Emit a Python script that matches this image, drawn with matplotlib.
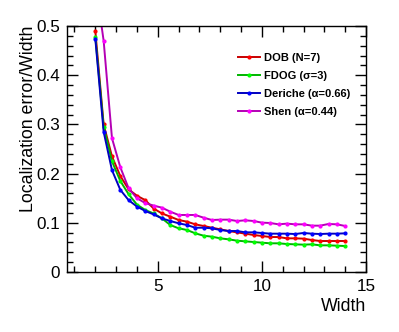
import matplotlib
matplotlib.use("Agg")
import matplotlib.pyplot as plt
from matplotlib.ticker import MultipleLocator, FixedLocator

plt.rcParams['font.family'] = ['Liberation Sans', 'DejaVu Sans']

# ---- data ----
width = [2.0, 2.4, 2.8, 3.2, 3.6, 4.0, 4.4, 4.8, 5.2, 5.6, 6.0, 6.4, 6.8, 7.2, 7.6,
         8.0, 8.4, 8.8, 9.2, 9.6, 10.0, 10.4, 10.8, 11.2, 11.6, 12.0, 12.4, 12.8,
         13.2, 13.6, 14.0]

dob = [0.490, 0.300, 0.235, 0.195, 0.168, 0.155, 0.146, 0.129, 0.119, 0.1125,
       0.1057, 0.1023, 0.0969, 0.0935, 0.0901, 0.0867, 0.0833, 0.0806, 0.0779,
       0.0752, 0.0732, 0.0711, 0.0711, 0.0684, 0.0684, 0.0678, 0.065, 0.063,
       0.063, 0.063, 0.063]

fdog = [0.478, 0.295, 0.225, 0.185, 0.158, 0.137, 0.126, 0.119, 0.109, 0.0955,
        0.0888, 0.0854, 0.0786, 0.0738, 0.0718, 0.0684, 0.0664, 0.0637, 0.0623,
        0.061, 0.0596, 0.0583, 0.0583, 0.0569, 0.0562, 0.0556, 0.0562, 0.0542,
        0.0542, 0.0535, 0.0528]

deriche = [0.474, 0.285, 0.207, 0.167, 0.146, 0.133, 0.124, 0.117, 0.109, 0.1037,
           0.099, 0.0955, 0.090, 0.090, 0.0888, 0.0854, 0.0833, 0.0833, 0.0806,
           0.0806, 0.0793, 0.0779, 0.0779, 0.0779, 0.0772, 0.0793, 0.0779, 0.0772,
           0.0779, 0.0779, 0.0786]

shen = [0.59, 0.47, 0.272, 0.213, 0.17, 0.15, 0.14, 0.135, 0.1307, 0.1226,
        0.1159, 0.1159, 0.1159, 0.1104, 0.1057, 0.1064, 0.1064, 0.1037, 0.105,
        0.1037, 0.1003, 0.0996, 0.0969, 0.0983, 0.0969, 0.0969, 0.0942, 0.0942,
        0.0976, 0.0969, 0.0935]

labels = ['DOB (N=7)', 'FDOG (\u03c3=3)', 'Deriche (\u03b1=0.66)', 'Shen (\u03b1=0.44)']
series = [dob, fdog, deriche, shen]
line_colors = ['#c80000', '#00b400', '#0000c0', '#b400b4']
marker_colors = ['#ff0000', '#00ff00', '#0000ff', '#ff00ff']

xticks_major = [5, 10, 15]
xtick_labels = ['5', '10', '15']
yticks_major = [0.0, 0.1, 0.2, 0.3, 0.4, 0.5]
ytick_labels = ['0', '0.1', '0.2', '0.3', '0.4', '0.5']

# ---- figure ----
fig = plt.figure(figsize=(3.99, 3.32), dpi=100)
ax = fig.add_axes([67/399, 1-272/332, (366-67)/399, (272-26)/332])

for ys, lab, lc, mc in zip(series, labels, line_colors, marker_colors):
    ax.plot(width, ys, color=lc, lw=1.4, marker='o', ms=2.0,
            mfc=mc, mec=mc, label=lab)

ax.set_xlim(0.64, 15.0)
ax.set_ylim(0, 0.5)

ax.xaxis.set_major_locator(FixedLocator(xticks_major))
ax.set_xticklabels(xtick_labels)
ax.xaxis.set_minor_locator(MultipleLocator(1))
ax.yaxis.set_major_locator(FixedLocator(yticks_major))
ax.set_yticklabels(ytick_labels)
ax.yaxis.set_minor_locator(MultipleLocator(0.02))

ax.tick_params(which='both', direction='in', top=True, right=True,
               width=1.0, labelsize=12.3)
ax.tick_params(which='major', length=8, pad=5)
ax.tick_params(which='minor', length=4.5)
ax.tick_params(axis='x', which='major', pad=5)
for s in ax.spines.values():
    s.set_linewidth(1.0)

ax.set_ylabel('Localization error/Width', fontsize=12.8, loc='top')
ax.yaxis.set_label_coords(-0.10, 1.0)
ax.set_xlabel('Width', fontsize=12.8, loc='right')
ax.xaxis.set_label_coords(1.0, -0.105)

leg = ax.legend(loc='upper left', bbox_to_anchor=(0.571, 0.89), frameon=False,
                prop={'weight': 'bold', 'size': 8}, handlelength=1.98,
                handletextpad=0.36, labelspacing=0.72, borderpad=0,
                borderaxespad=0, numpoints=1)

fig.savefig('out.png', dpi=100)
